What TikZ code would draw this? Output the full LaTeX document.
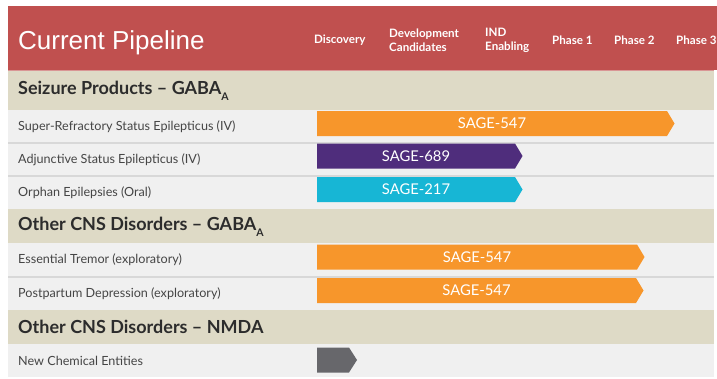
\documentclass[tikz,border=0pt]{standalone}
\usepackage{fontspec}
\setmainfont{Lato}
\newfontfamily\headfont{Liberation Sans}

\definecolor{hdrred}{HTML}{C0504F}
\definecolor{sectan}{HTML}{DEDAC6}
\definecolor{rowbg}{HTML}{F0F0F0}
\definecolor{rowline}{HTML}{D8D8D8}
\definecolor{barorange}{HTML}{F7962B}
\definecolor{barpurple}{HTML}{4F2D7C}
\definecolor{barcyan}{HTML}{17B6D5}
\definecolor{bargray}{HTML}{67676B}
\definecolor{labeltext}{HTML}{454545}
\definecolor{titletext}{HTML}{2C2C2C}

% subscript "A" used in the GABA_A section titles
\newcommand\subA{\raisebox{-0.32em}{\fontsize{10.5}{10}\selectfont A}}

% arrow-shaped bar: name, top y, body end x, colour, label
\newcommand\pipebar[5]{%
  \fill[#4] (317,#2) -- (#3,#2) -- ({#3+7.5},{#2+12.5}) -- (#3,{#2+25}) -- (317,{#2+25}) -- cycle;
  \node[barlabel] (#1) at ({(317+#3)/2},{#2+12.5}) {#5};
}

\begin{document}
\begin{tikzpicture}[x=1pt,y=-1pt,
  colhead/.style={anchor=west,align=left,text=white,inner sep=0pt,
    font=\bfseries\fontsize{11.6}{14}\selectfont},
  sectitle/.style={anchor=west,text=titletext,inner sep=0pt,
    font=\bfseries\fontsize{18}{21}\selectfont},
  rowlabel/.style={anchor=west,text=labeltext,inner sep=0pt,
    font=\fontsize{12.6}{14}\selectfont},
  barlabel/.style={text=white,inner sep=0pt,font=\fontsize{14.8}{16}\selectfont}]

\useasboundingbox (0,0) rectangle (717,378);
\fill[white] (0,0) rectangle (717,378);

% header band
\fill[hdrred] (8,6) rectangle (717,70);
\draw[hdrred!60!white,line width=0.8pt] (8,70) -- (714,70);
\node[anchor=base west,text=white,inner sep=0pt,
  font=\headfont\fontsize{26}{30}\selectfont] (title) at (18,49) {Current Pipeline};
\node[colhead] (hdisc) at (314,40) {Discovery};
\node[colhead] (hdev) at (389,40) {Development\\Candidates};
\node[colhead] (hind) at (485,40) {IND\\Enabling};
\node[colhead] (hp1) at (552,40) {Phase 1};
\node[colhead] (hp2) at (614,40) {Phase 2};
\node[colhead] (hp3) at (676,40) {Phase 3};

% section bands
\fill[sectan] (8,70.5) rectangle (714,110);
\fill[sectan] (8,209) rectangle (714,243);
\fill[sectan] (8,310) rectangle (714,344);

% indication rows
\fill[rowbg] (8,110) rectangle (714,209);
\fill[rowbg] (8,243) rectangle (714,310);
\fill[rowbg] (8,344) rectangle (714,377);
\draw[rowline,line width=1.2pt] (8,143) -- (714,143);
\draw[rowline,line width=1.2pt] (8,176) -- (714,176);
\draw[rowline,line width=1.2pt] (8,277) -- (714,277);

% section titles
\node[sectitle] (s1) at (18,91) {Seizure Products – GABA\subA};
\node[sectitle] (s2) at (18,227) {Other CNS Disorders – GABA\subA};
\node[sectitle] (s3) at (18,327) {Other CNS Disorders – NMDA};

% indication labels
\node[rowlabel] (r1) at (18,127) {Super-Refractory Status Epilepticus (IV)};
\node[rowlabel] (r2) at (18,160) {Adjunctive Status Epilepticus (IV)};
\node[rowlabel] (r3) at (18,193) {Orphan Epilepsies (Oral)};
\node[rowlabel] (r4) at (18,260) {Essential Tremor (exploratory)};
\node[rowlabel] (r5) at (18,294) {Postpartum Depression (exploratory)};
\node[rowlabel] (r6) at (18,361) {New Chemical Entities};

% programme bars
\pipebar{b1}{111}{667}{barorange}{SAGE-547}
\pipebar{b2}{143.5}{515}{barpurple}{SAGE-689}
\pipebar{b3}{177}{515}{barcyan}{SAGE-217}
\pipebar{b4}{244.5}{637}{barorange}{SAGE-547}
\pipebar{b5}{278}{636}{barorange}{SAGE-547}
\fill[bargray] (317,347.5) -- (349,347.5) -- (357,360) -- (349,372.5) -- (317,372.5) -- cycle;

\end{tikzpicture}
\end{document}
